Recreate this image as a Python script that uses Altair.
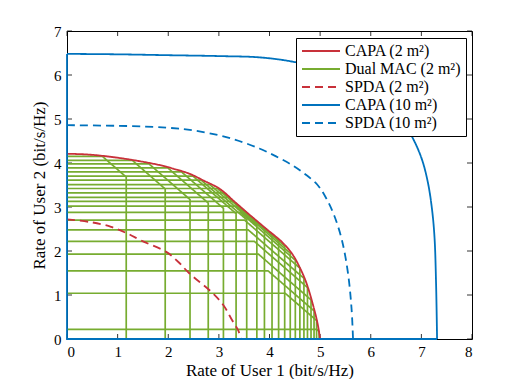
import altair as alt
import pandas as pd

# ---------------- data ----------------
series_names = ["CAPA (2 m²)", "Dual MAC (2 m²)", "SPDA (2 m²)", "CAPA (10 m²)", "SPDA (10 m²)"]
series_colors = ["#C8313A", "#77AC30", "#C8313A", "#0072BD", "#0072BD"]
series_dashes = [[1, 0], [1, 0], [8, 5], [1, 0], [8, 5]]

capa2_x = [0, 0.45, 1.0, 1.44, 1.84, 2.1, 2.41, 2.7, 3.02, 3.32, 3.62, 3.95, 4.25, 4.45, 4.6, 4.73, 4.87, 4.95, 5.0]
capa2_y = [4.21, 4.19, 4.12, 4.04, 3.95, 3.87, 3.76, 3.6, 3.41, 3.11, 2.81, 2.49, 2.2, 1.93, 1.62, 1.27, 0.73, 0.35, 0]

spda2_x = [0, 0.5, 0.87, 1.17, 1.5, 1.96, 2.2, 2.41, 2.87, 3.1, 3.26, 3.38, 3.44]
spda2_y = [2.72, 2.65, 2.55, 2.41, 2.22, 1.98, 1.75, 1.5, 1.05, 0.75, 0.43, 0.2, 0]

capa10_x = [0, 1, 2, 3, 3.81, 4.47, 5.14, 5.7, 6.13, 6.5, 6.72, 6.88, 7.02, 7.13, 7.21, 7.26, 7.29, 7.31]
capa10_y = [6.48, 6.47, 6.45, 6.43, 6.40, 6.3, 6.11, 5.85, 5.51, 5.1, 4.78, 4.45, 4.05, 3.55, 2.95, 2.3, 1.27, 0]
capa10_edge_x = [0, 0, 7.31]
capa10_edge_y = [6.48, 0, 0]

spda10_x = [0, 1.2, 2.0, 2.5, 3.0, 3.4, 3.8, 4.13, 4.45, 4.7, 4.95, 5.12, 5.28, 5.43, 5.55, 5.62, 5.65]
spda10_y = [4.86, 4.84, 4.80, 4.74, 4.63, 4.5, 4.33, 4.15, 3.95, 3.75, 3.5, 3.2, 2.8, 2.25, 1.5, 0.7, 0]

# dual MAC pentagons: R1 max, R2 max, sum-rate
mac_r1max = [1.17, 1.94, 2.43, 2.79, 3.09, 3.34, 3.55, 3.75, 3.90, 4.05, 4.18,
             4.30, 4.41, 4.51, 4.60, 4.68, 4.75, 4.82, 4.88, 4.93, 4.98]
mac_r2max = [4.15, 4.06, 3.98, 3.89, 3.80, 3.70, 3.61, 3.51, 3.42, 3.32, 3.22,
             3.13, 3.02, 2.88, 2.70, 2.48, 2.22, 1.93, 1.55, 1.04, 0.22]
mac_sum = [4.85, 5.35, 5.60, 5.88, 6.06, 6.19, 6.26, 6.33, 6.39, 6.41, 6.41,
           6.41, 6.36, 6.30, 6.21, 6.06, 5.92, 5.71, 5.52, 5.35, 5.15]

x_ticks = [0, 1, 2, 3, 4, 5, 6, 7, 8]
y_ticks = [0, 1, 2, 3, 4, 5, 6, 7]

# ---------------- build table ----------------
rows = []


def add(series, poly, kind, xs, ys):
    for i, (x, y) in enumerate(zip(xs, ys)):
        rows.append(dict(series=series, poly=poly, kind=kind, idx=i, x=x, y=y))


add(series_names[0], "capa2", "curve", capa2_x, capa2_y)
add(series_names[2], "spda2", "curve", spda2_x, spda2_y)
add(series_names[3], "capa10", "curve", capa10_x, capa10_y)
add(series_names[3], "capa10edge", "edge", capa10_edge_x, capa10_edge_y)
add(series_names[4], "spda10", "curve", spda10_x, spda10_y)
for k, (a, b, s) in enumerate(zip(mac_r1max, mac_r2max, mac_sum)):
    add(series_names[1], f"mac{k}", "edge", [0, s - b, a, a], [b, b, s - a, 0])

df = pd.DataFrame(rows)
xt = pd.DataFrame({"t": x_ticks})
yt = pd.DataFrame({"t": y_ticks})

W, H = 405, 308
FONT = "Liberation Serif"

legend = alt.Legend(
    title=None, orient="none", legendX=229, legendY=7,
    symbolType="stroke", symbolSize=1444, symbolStrokeWidth=2,
    clipHeight=16, rowPadding=2, labelFont=FONT, labelFontSize=16,
    labelColor="black", labelLimit=400, labelOffset=4,
    strokeColor="black", fillColor="white", padding=5, cornerRadius=0,
)

xscale = alt.Scale(domain=[0, 8], nice=False, zero=False)
yscale = alt.Scale(domain=[0, 7], nice=False, zero=False)
axis_style = dict(grid=False, ticks=False, tickSize=0, domain=False, format="d",
                  labelFont=FONT, labelFontSize=15, labelColor="black",
                  titleFont=FONT, titleFontSize=17, titleFontWeight="normal", titleColor="black")
xaxis = alt.Axis(values=x_ticks, title="Rate of User 1 (bit/s/Hz)", labelPadding=5, titlePadding=3, **axis_style)
yaxis = alt.Axis(values=y_ticks, title="Rate of User 2 (bit/s/Hz)", labelPadding=6, titlePadding=5, **axis_style)

color = alt.Color("series:N", scale=alt.Scale(domain=series_names, range=series_colors), legend=legend)
dash = alt.StrokeDash("series:N", scale=alt.Scale(domain=series_names, range=series_dashes), legend=legend)

base = alt.Chart(df).encode(
    x=alt.X("x:Q", scale=xscale, axis=xaxis),
    y=alt.Y("y:Q", scale=yscale, axis=yaxis),
    color=color,
    strokeDash=dash,
    detail="poly:N",
    order=alt.Order("idx:Q"),
)

is_mac = alt.datum.series == series_names[1]
is_red = (alt.datum.series == series_names[0]) | (alt.datum.series == series_names[2])
is_blue = (alt.datum.series == series_names[3]) | (alt.datum.series == series_names[4])

mac = base.transform_filter(is_mac).mark_line(strokeWidth=1.7)
red = base.transform_filter(is_red).mark_line(strokeWidth=1.8, interpolate="catmull-rom")
blue_edge = base.transform_filter(is_blue & (alt.datum.kind == "edge")).mark_line(strokeWidth=1.8)
blue = base.transform_filter(is_blue & (alt.datum.kind == "curve")).mark_line(strokeWidth=1.8, interpolate="catmull-rom")

tx = alt.X("t:Q", scale=xscale, axis=xaxis)
ty = alt.Y("t:Q", scale=yscale, axis=yaxis)
tick_bottom = alt.Chart(xt).mark_rule(color="black", strokeWidth=0.8).encode(x=tx, y=alt.value(H), y2=alt.value(H - 5))
tick_top = alt.Chart(xt).mark_rule(color="black", strokeWidth=0.8).encode(x=tx, y=alt.value(0), y2=alt.value(5))
tick_left = alt.Chart(yt).mark_rule(color="black", strokeWidth=0.8).encode(y=ty, x=alt.value(0), x2=alt.value(5))
tick_right = alt.Chart(yt).mark_rule(color="black", strokeWidth=0.8).encode(y=ty, x=alt.value(W), x2=alt.value(W - 5))

chart = alt.layer(tick_bottom, tick_top, tick_left, tick_right, mac, red, blue_edge, blue).properties(
    width=W, height=H,
    background="white",
    autosize=alt.AutoSizeParams(type="none"),
    padding={"left": 59, "top": 23, "right": 43, "bottom": 40},
).configure_view(stroke="black", strokeWidth=1)

chart.save("out.html", embed_options={"renderer": "svg", "actions": False})
